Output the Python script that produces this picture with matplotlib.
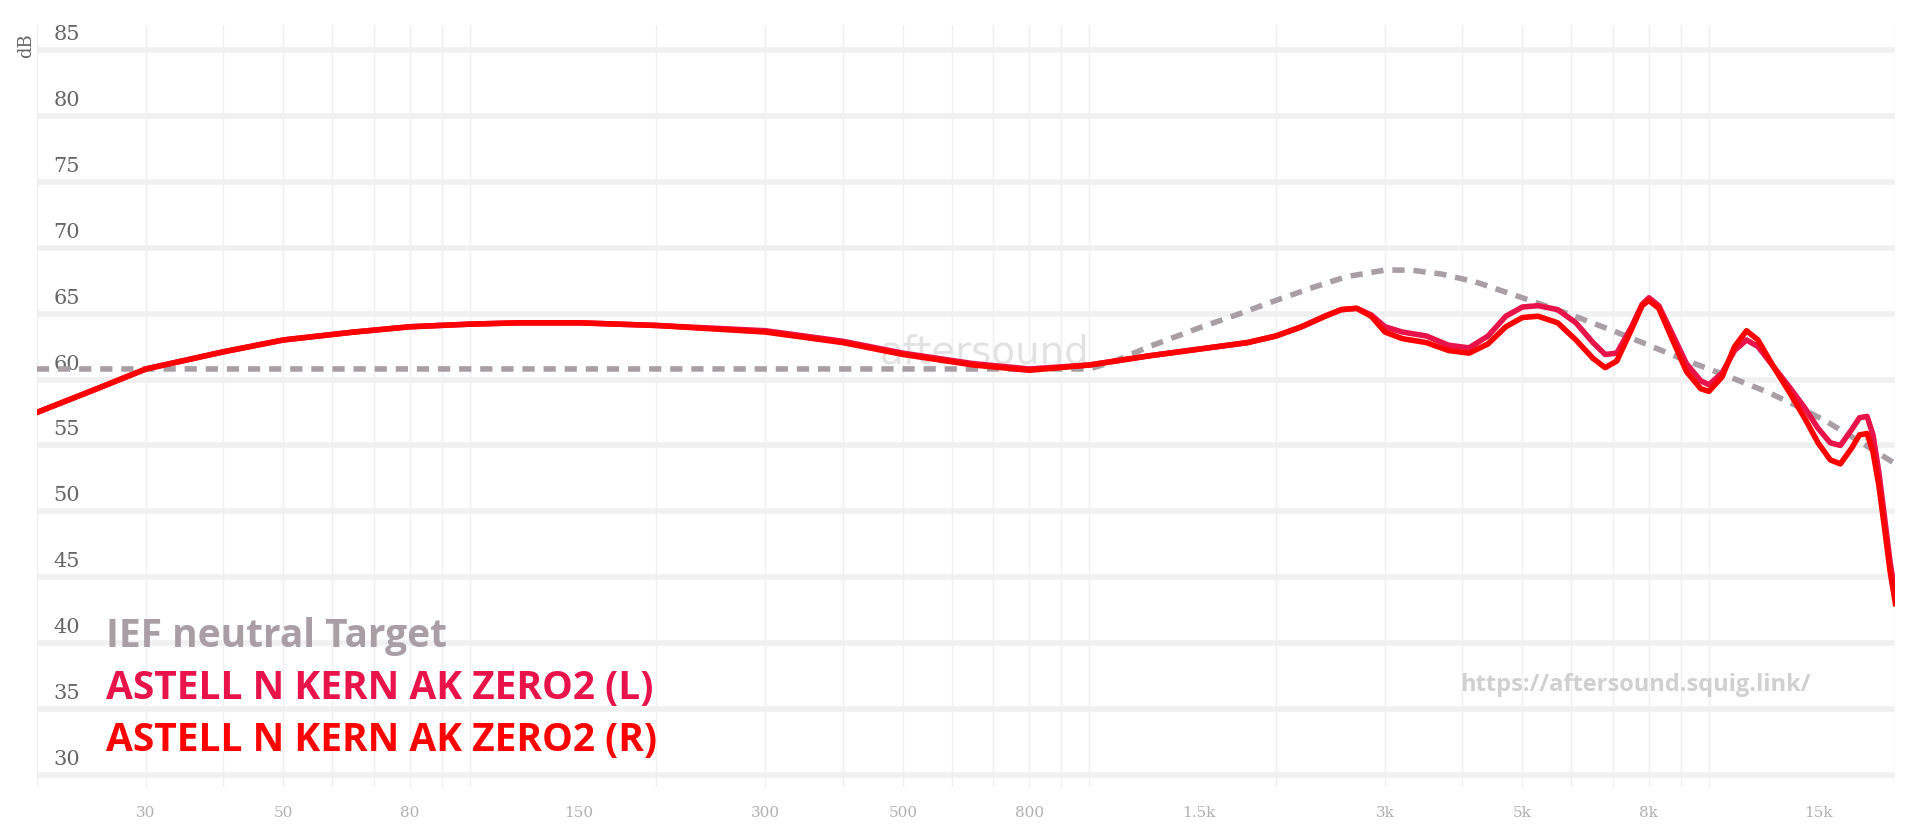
import numpy as np
import matplotlib
matplotlib.use('Agg')
import matplotlib.pyplot as plt
from matplotlib.transforms import blended_transform_factory

# frequency response data (Hz, dB)
target_freq = [20, 100, 500, 1000, 1100, 1250, 1500, 1750, 2000, 2300, 2600, 3000, 3300, 3700, 4200, 5000, 6000,
               7000, 8000, 9000, 10000, 11200, 12500, 14000, 15500, 17500, 20000]
target_db = [60.8, 60.8, 60.8, 60.8, 61.4, 62.5, 63.9, 65.0, 66.0, 67.0, 67.8, 68.3, 68.3, 68.0, 67.4, 66.2, 64.9,
             63.7, 62.6, 61.6, 60.8, 59.9, 59.0, 57.9, 56.8, 55.3, 53.6]

freq = [20, 25, 30, 40, 50, 65, 80, 100, 120, 150, 200, 300, 400, 500, 650, 800, 1000, 1250, 1500, 1800, 2000, 2200,
        2400, 2550, 2700, 2850, 3000, 3200, 3500, 3800, 4100, 4400, 4700, 5000, 5300, 5700, 6100, 6500, 6800, 7100,
        7500, 7800, 8000, 8300, 8700, 9200, 9700, 10000, 10500, 11000, 11500, 12000, 12700, 13500, 14300, 15000,
        15700, 16300, 17000, 17500, 18000, 18400, 18800, 19200, 19600, 20000]
r_db = [57.5, 59.3, 60.8, 62.1, 63.0, 63.6, 64.0, 64.2, 64.3, 64.3, 64.1, 63.6, 62.8, 61.9, 61.1, 60.7, 61.1, 61.8,
        62.3, 62.8, 63.3, 64.0, 64.8, 65.3, 65.4, 64.8, 63.6, 63.1, 62.8, 62.2, 62.0, 62.7, 64.0, 64.7, 64.8, 64.3,
        63.0, 61.6, 60.9, 61.4, 63.8, 65.6, 66.0, 65.4, 63.2, 60.6, 59.3, 59.1, 60.2, 62.5, 63.7, 63.0, 61.0, 59.0,
        57.0, 55.2, 53.9, 53.6, 54.8, 55.8, 55.9, 54.5, 52.0, 48.8, 45.5, 43.0]
l_db = [57.5, 59.3, 60.8, 62.1, 63.0, 63.6, 64.0, 64.2, 64.3, 64.3, 64.1, 63.7, 62.9, 62.0, 61.2, 60.8, 61.1, 61.8,
        62.3, 62.8, 63.3, 64.0, 64.8, 65.3, 65.4, 64.9, 64.0, 63.6, 63.3, 62.6, 62.4, 63.3, 64.8, 65.5, 65.6, 65.3,
        64.3, 62.8, 61.9, 62.0, 64.0, 65.7, 66.2, 65.6, 63.6, 61.2, 59.9, 59.6, 60.5, 62.2, 63.0, 62.5, 61.0, 59.4,
        57.8, 56.3, 55.2, 55.0, 56.2, 57.1, 57.2, 55.8, 53.0, 49.6, 46.2, 43.5]

xticks = [30, 50, 80, 150, 300, 500, 800, 1500, 3000, 5000, 8000, 15000]
xtick_labels = ['30', '50', '80', '150', '300', '500', '800', '1.5k', '3k', '5k', '8k', '15k']
yticks = list(range(30, 90, 5))

labels = ['IEF neutral Target', 'ASTELL N KERN AK ZERO2 (L)', 'ASTELL N KERN AK ZERO2 (R)']
colors = ['#a89ea3', '#e8134a', '#ff0000']

fig = plt.figure(figsize=(19.2, 8.3), dpi=100)
ax = fig.add_axes([0.0192, 0.052, 0.968, 0.918])
ax.set_xscale('log')
ax.set_xlim(20, 20000)
ax.set_ylim(29.1, 86.9)

# grid
minor = [m * 10 ** e for e in range(1, 5) for m in range(1, 10) if 20 <= m * 10 ** e <= 20000]
for f in minor:
    ax.axvline(f, color='#efefef', lw=1.0, zorder=0)
for y in yticks:
    ax.axhline(y, color='#f0f0f0', lw=4, zorder=0)

for s in ax.spines.values():
    s.set_visible(False)
ax.set_yticks([])
ax.set_xticks(xticks)
ax.set_xticklabels(xtick_labels, family='DejaVu Serif', fontsize=11, color='#b0b0b0')
ax.xaxis.set_minor_locator(matplotlib.ticker.NullLocator())
ax.tick_params(axis='x', length=0, pad=14)

tr = blended_transform_factory(ax.transAxes, ax.transData)
for y in yticks:
    ax.text(0.009, y + 0.45, str(y), transform=tr, family='DejaVu Serif', fontsize=15,
            color='#666666', va='bottom', ha='left')
ax.text(-0.006, 86.3, 'dB', transform=tr, family='DejaVu Serif', fontsize=13, color='#666666',
        rotation=90, va='top', ha='center')

# watermark
ax.text(0.51, 0.57, 'aftersound', transform=ax.transAxes, fontsize=28, color='#e2e2e2',
        ha='center', va='center', zorder=1)
ax.text(0.86, 0.134, 'https://aftersound.squig.link/', transform=ax.transAxes, fontsize=17,
        color='#d0d0d0', fontweight='bold', ha='center', va='center', family='Open Sans')

ax.plot(target_freq, target_db, color=colors[0], lw=4, ls=(0, (2.2, 1.6)), zorder=3)
ax.plot(freq, l_db, color=colors[1], lw=4, zorder=4, solid_joinstyle='round')
ax.plot(freq, r_db, color=colors[2], lw=4, zorder=5, solid_joinstyle='round')

for i, (lab, c) in enumerate(zip(labels, colors)):
    ax.text(0.037, 0.197 - i * 0.068, lab, transform=ax.transAxes, fontsize=28, fontweight='bold',
            color=c, family='Open Sans', va='center', ha='left')

fig.savefig('out.png', dpi=100)
